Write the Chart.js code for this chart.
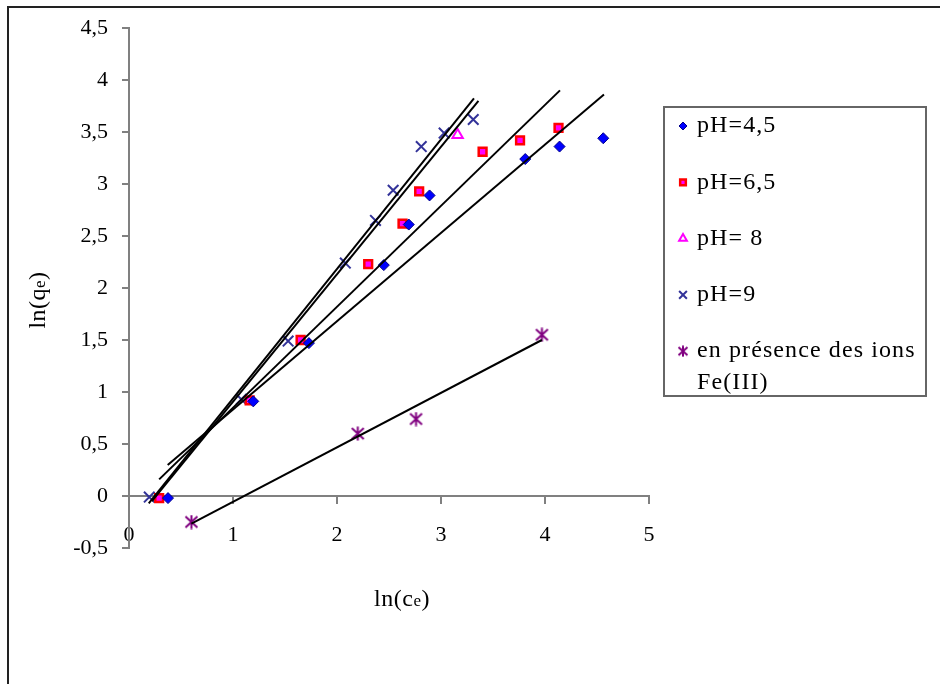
<!DOCTYPE html>
<html lang="fr">
<head>
<meta charset="UTF-8">
<title>ln(qe) = f(ln(ce))</title>
<style>
  html, body { margin: 0; padding: 0; background: #fff; }
  canvas { display: block; }
</style>
</head>
<body>
<canvas id="isotherme" width="940" height="684"></canvas>

<script src="https://cdn.jsdelivr.net/npm/chart.js"></script>
<script>
// points: x = ln(ce), y = ln(qe)
const ph45X = [0.375, 1.195, 1.73, 2.45, 2.69, 2.89, 3.81, 4.14, 4.56];
const ph45Y = [-0.02, 0.91, 1.47, 2.22, 2.61, 2.89, 3.24, 3.36, 3.44];

const ph65X = [0.29, 1.16, 1.65, 2.30, 2.63, 2.79, 3.40, 3.76, 4.13];
const ph65Y = [-0.02, 0.92, 1.50, 2.23, 2.62, 2.93, 3.31, 3.42, 3.54];

const ph8X = [3.16];
const ph8Y = [3.47];

const ph9X = [0.195, 1.08, 1.53, 2.08, 2.37, 2.54, 2.81, 3.03, 3.31];
const ph9Y = [-0.01, 0.93, 1.49, 2.24, 2.65, 2.94, 3.36, 3.49, 3.62];

const feX = [0.6, 2.2, 2.76, 3.97];
const feY = [-0.25, 0.60, 0.74, 1.55];

// linear trendlines, end points as drawn
const fit45X = [0.372, 4.567];
const fit45Y = [0.298, 3.86];
const fit65X = [0.29, 4.144];
const fit65Y = [0.16, 3.90];
const fit9aX = [0.19, 3.317];
const fit9aY = [-0.07, 3.824];
const fit9bX = [0.22, 3.36];
const fit9bY = [-0.05, 3.80];
const fitFeX = [0.6, 3.97];
const fitFeY = [-0.265, 1.50];

const legendLabels = ['pH=4,5', 'pH=6,5', 'pH= 8', 'pH=9', ['en présence des ions', 'Fe(III)']];

const xTickValues = [0, 1, 2, 3, 4, 5];
const xTickLabels = ['0', '1', '2', '3', '4', '5'];
const yTickValues = [-0.5, 0, 0.5, 1, 1.5, 2, 2.5, 3, 3.5, 4, 4.5];
const yTickLabels = ['-0,5', '0', '0,5', '1', '1,5', '2', '2,5', '3', '3,5', '4', '4,5'];

const xTitle = ['ln(c', 'e', ')'];
const yTitle = ['ln(q', 'e', ')'];

const serif = '"Liberation Serif", "Times New Roman", serif';

function toXY(xs, ys) {
  return xs.map((x, i) => ({ x: x, y: ys[i] }));
}

// 6-arm asterisk marker (Excel style)
function makeAsterisk(size, color) {
  const c = document.createElement('canvas');
  c.width = size;
  c.height = size;
  const g = c.getContext('2d');
  g.strokeStyle = color;
  g.lineWidth = 2;
  g.beginPath();
  g.moveTo(size / 2, 0.5);
  g.lineTo(size / 2, size - 0.5);
  g.moveTo(1.5, 2);
  g.lineTo(size - 1.5, size - 2);
  g.moveTo(size - 1.5, 2);
  g.lineTo(1.5, size - 2);
  g.stroke();
  return c;
}

function trend(xs, ys) {
  return {
    label: '',
    data: toXY(xs, ys),
    showLine: true,
    borderColor: '#000',
    borderWidth: 2,
    pointRadius: 0,
    fill: false,
    order: 0
  };
}

const pointSets = [
  { label: 'pH=4,5', data: toXY(ph45X, ph45Y), pointStyle: 'rectRot', pointRadius: 5.5, legendRadius: 4,
    backgroundColor: '#0000ff', borderColor: '#00008b', pointBorderWidth: 1, borderWidth: 1, order: 1 },
  { label: 'pH=6,5', data: toXY(ph65X, ph65Y), pointStyle: 'rect', pointRadius: 5.5, legendRadius: 4,
    backgroundColor: '#ff00ff', borderColor: '#ff0000', pointBorderWidth: 2.5, borderWidth: 2.5, order: 1 },
  { label: 'pH= 8', data: toXY(ph8X, ph8Y), pointStyle: 'triangle', pointRadius: 6, legendRadius: 4.5,
    backgroundColor: '#ffffff', borderColor: '#ff00ff', pointBorderWidth: 2, borderWidth: 2, order: 1 },
  { label: 'pH=9', data: toXY(ph9X, ph9Y), pointStyle: 'crossRot', pointRadius: 7.5, legendRadius: 5.5,
    backgroundColor: '#333399', borderColor: '#333399', pointBorderWidth: 2, borderWidth: 2, order: 1 },
  { label: 'en présence des ions Fe(III)', data: toXY(feX, feY), pointStyle: makeAsterisk(15, '#800080'),
    legendStyle: makeAsterisk(12, '#800080'), pointRadius: 7, legendRadius: 5,
    backgroundColor: '#800080', borderColor: '#800080', pointBorderWidth: 2, borderWidth: 2, order: 1 }
];

const lineSets = [
  trend(fit45X, fit45Y),
  trend(fit65X, fit65Y),
  trend(fit9aX, fit9aY),
  trend(fit9bX, fit9bY),
  trend(fitFeX, fitFeY)
];

function drawParts(ctx, cx, cy, angle, parts) {
  const sizes = [24, 17, 24];
  ctx.save();
  ctx.translate(cx, cy);
  ctx.rotate(angle);
  ctx.fillStyle = '#000';
  ctx.textBaseline = 'alphabetic';
  if ('letterSpacing' in ctx) ctx.letterSpacing = '0.5px';
  let total = 0;
  parts.forEach((p, i) => {
    ctx.font = sizes[i] + 'px ' + serif;
    total += ctx.measureText(p).width;
  });
  let x = -total / 2;
  parts.forEach((p, i) => {
    ctx.font = sizes[i] + 'px ' + serif;
    ctx.fillText(p, x, 8);
    x += ctx.measureText(p).width;
  });
  ctx.restore();
}

const framePlugin = {
  id: 'framePlugin',
  beforeDraw(chart) {
    const ctx = chart.ctx;
    ctx.save();
    ctx.fillStyle = '#fff';
    ctx.fillRect(0, 0, chart.width, chart.height);
    ctx.strokeStyle = '#222';
    ctx.lineWidth = 2;
    ctx.beginPath();
    ctx.moveTo(8, chart.height + 4);
    ctx.lineTo(8, 7);
    ctx.lineTo(chart.width + 4, 7);
    ctx.stroke();
    ctx.restore();
  },
  afterDraw(chart) {
    const ctx = chart.ctx;
    // axis titles
    drawParts(ctx, 402, 598, 0, xTitle);
    drawParts(ctx, 37, 300, -Math.PI / 2, yTitle);

    // legend box
    ctx.save();
    ctx.strokeStyle = '#666';
    ctx.lineWidth = 2;
    ctx.strokeRect(664, 107, 262, 289);
    ctx.font = '24px ' + serif;
    if ('letterSpacing' in ctx) ctx.letterSpacing = '1.1px';
    ctx.textBaseline = 'middle';
    let y = 126;
    pointSets.forEach((ds, i) => {
      ctx.save();
      ctx.fillStyle = ds.backgroundColor;
      ctx.strokeStyle = ds.borderColor;
      ctx.lineWidth = ds.borderWidth;
      Chart.helpers.drawPoint(ctx, {
        pointStyle: ds.legendStyle || ds.pointStyle,
        radius: ds.legendRadius,
        rotation: 0,
        borderWidth: ds.borderWidth
      }, 683, y);
      ctx.restore();
      ctx.fillStyle = '#000';
      const lines = [].concat(legendLabels[i]);
      lines.forEach((t, k) => ctx.fillText(t, 697, y + k * 32));
      y += 56.3;
    });
    ctx.restore();
  }
};

const axisGrid = { drawOnChartArea: false, drawTicks: true, tickLength: 7, color: '#808080', lineWidth: 2 };
const axisBorder = { color: '#808080', width: 2 };

new Chart(document.getElementById('isotherme'), {
  type: 'scatter',
  data: { datasets: pointSets.concat(lineSets) },
  options: {
    responsive: false,
    animation: false,
    events: [],
    layout: { padding: { left: 0, top: 28, right: 291, bottom: 136 } },
    plugins: { legend: { display: false }, tooltip: { enabled: false } },
    scales: {
      x: {
        type: 'linear',
        position: { y: 0 },
        min: 0,
        max: 5,
        afterBuildTicks: s => { s.ticks = xTickValues.map(v => ({ value: v })); },
        ticks: {
          autoSkip: false,
          maxRotation: 0,
          padding: 19,
          color: '#000',
          font: { family: serif, size: 22 },
          callback: v => xTickLabels[xTickValues.indexOf(v)]
        },
        grid: axisGrid,
        border: axisBorder
      },
      y: {
        type: 'linear',
        position: 'left',
        min: -0.5,
        max: 4.5,
        afterFit: s => { s.width = 129; },
        afterBuildTicks: s => { s.ticks = yTickValues.map(v => ({ value: v })); },
        ticks: {
          autoSkip: false,
          padding: 14,
          color: '#000',
          font: { family: serif, size: 22 },
          callback: v => yTickLabels[yTickValues.indexOf(v)]
        },
        grid: axisGrid,
        border: axisBorder
      }
    }
  },
  plugins: [framePlugin]
});
</script>
</body>
</html>
